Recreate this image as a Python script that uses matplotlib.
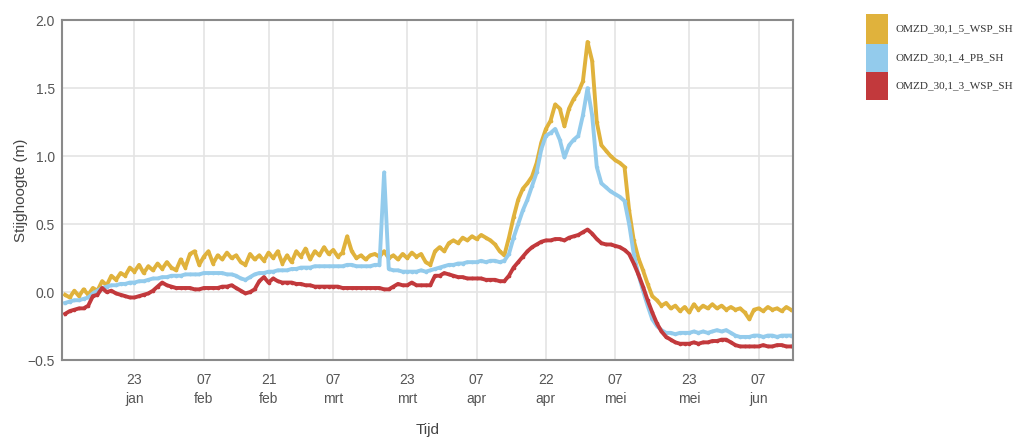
import pandas as pd
import matplotlib
matplotlib.use("Agg")
import matplotlib.pyplot as plt
from matplotlib.patches import Rectangle

# daily values, 8 jan - 14 jun
dates = pd.date_range("2019-01-08", periods=158, freq="D")

wsp5 = [-0.02, -0.04, 0.01, -0.03, 0.02, -0.02, 0.03, 0.01, 0.08, 0.05,
        0.12, 0.09, 0.14, 0.12, 0.18, 0.15, 0.20, 0.14, 0.19, 0.16,
        0.21, 0.17, 0.22, 0.18, 0.16, 0.24, 0.18, 0.28, 0.30, 0.20,
        0.26, 0.30, 0.21, 0.27, 0.24, 0.29, 0.25, 0.27, 0.22, 0.20,
        0.28, 0.24, 0.27, 0.23, 0.29, 0.25, 0.30, 0.21, 0.27, 0.22,
        0.30, 0.26, 0.32, 0.24, 0.30, 0.27, 0.33, 0.28, 0.31, 0.26,
        0.29, 0.41, 0.30, 0.25, 0.27, 0.24, 0.27, 0.28, 0.26, 0.30,
        0.25, 0.27, 0.24, 0.28, 0.25, 0.29, 0.26, 0.28, 0.22, 0.20,
        0.30, 0.33, 0.30, 0.36, 0.38, 0.36, 0.40, 0.38, 0.41, 0.39,
        0.42, 0.40, 0.38, 0.35, 0.30, 0.27, 0.40, 0.55, 0.68, 0.76,
        0.80, 0.85, 0.95, 1.10, 1.20, 1.26, 1.38, 1.35, 1.22, 1.35,
        1.42, 1.47, 1.55, 1.84, 1.70, 1.25, 1.08, 1.04, 1.00, 0.97,
        0.95, 0.92, 0.60, 0.38, 0.25, 0.16, 0.06, -0.03, -0.06, -0.10,
        -0.08, -0.12, -0.10, -0.14, -0.11, -0.15, -0.09, -0.13, -0.10, -0.12,
        -0.09, -0.12, -0.10, -0.13, -0.11, -0.13, -0.12, -0.15, -0.20, -0.13,
        -0.12, -0.14, -0.11, -0.13, -0.12, -0.14, -0.11, -0.13]

pb4 = [-0.08, -0.07, -0.06, -0.06, -0.05, -0.04, -0.01, 0.01, 0.03, 0.04,
       0.05, 0.05, 0.06, 0.06, 0.07, 0.07, 0.08, 0.08, 0.09, 0.10,
       0.10, 0.11, 0.11, 0.12, 0.12, 0.12, 0.13, 0.13, 0.13, 0.13,
       0.14, 0.14, 0.14, 0.14, 0.14, 0.13, 0.13, 0.12, 0.10, 0.09,
       0.11, 0.13, 0.14, 0.14, 0.15, 0.15, 0.16, 0.16, 0.16, 0.17,
       0.17, 0.18, 0.18, 0.18, 0.19, 0.19, 0.19, 0.19, 0.19, 0.19,
       0.19, 0.20, 0.20, 0.19, 0.19, 0.19, 0.19, 0.20, 0.20, 0.88,
       0.17, 0.16, 0.16, 0.15, 0.15, 0.15, 0.15, 0.16, 0.15, 0.16,
       0.17, 0.18, 0.19, 0.20, 0.20, 0.21, 0.21, 0.22, 0.22, 0.22,
       0.23, 0.22, 0.23, 0.23, 0.22, 0.23, 0.28, 0.40, 0.50, 0.60,
       0.68, 0.78, 0.88, 1.05, 1.15, 1.17, 1.20, 1.12, 0.99, 1.08,
       1.12, 1.15, 1.30, 1.50, 1.30, 0.92, 0.80, 0.77, 0.74, 0.72,
       0.70, 0.67, 0.50, 0.28, 0.13, 0.01, -0.10, -0.20, -0.25, -0.28,
       -0.30, -0.30, -0.31, -0.30, -0.30, -0.30, -0.29, -0.30, -0.29, -0.30,
       -0.29, -0.28, -0.29, -0.28, -0.30, -0.32, -0.33, -0.33, -0.33, -0.32,
       -0.32, -0.33, -0.32, -0.32, -0.33, -0.32, -0.32, -0.32]

wsp3 = [-0.16, -0.14, -0.13, -0.12, -0.12, -0.10, -0.03, -0.02, 0.03, 0.00,
        0.01, -0.01, -0.02, -0.03, -0.04, -0.04, -0.03, -0.02, -0.01, 0.01,
        0.04, 0.07, 0.05, 0.04, 0.03, 0.03, 0.03, 0.03, 0.02, 0.02,
        0.03, 0.03, 0.03, 0.03, 0.04, 0.04, 0.05, 0.03, 0.01, -0.01,
        0.00, 0.02, 0.08, 0.11, 0.07, 0.10, 0.08, 0.07, 0.07, 0.07,
        0.06, 0.06, 0.05, 0.05, 0.04, 0.04, 0.04, 0.04, 0.04, 0.04,
        0.03, 0.03, 0.03, 0.03, 0.03, 0.03, 0.03, 0.03, 0.03, 0.02,
        0.02, 0.04, 0.06, 0.05, 0.05, 0.07, 0.05, 0.05, 0.05, 0.05,
        0.12, 0.12, 0.14, 0.13, 0.12, 0.11, 0.11, 0.10, 0.10, 0.10,
        0.10, 0.09, 0.09, 0.09, 0.08, 0.08, 0.12, 0.18, 0.22, 0.26,
        0.30, 0.33, 0.35, 0.37, 0.38, 0.38, 0.39, 0.39, 0.38, 0.40,
        0.41, 0.42, 0.44, 0.46, 0.43, 0.39, 0.36, 0.35, 0.35, 0.34,
        0.33, 0.31, 0.28, 0.21, 0.13, 0.04, -0.06, -0.15, -0.23, -0.29,
        -0.33, -0.35, -0.37, -0.38, -0.38, -0.38, -0.37, -0.38, -0.37, -0.37,
        -0.36, -0.36, -0.35, -0.35, -0.37, -0.39, -0.40, -0.40, -0.40, -0.40,
        -0.40, -0.39, -0.40, -0.40, -0.39, -0.39, -0.40, -0.40]

series_names = ["OMZD_30,1_5_WSP_SH", "OMZD_30,1_4_PB_SH", "OMZD_30,1_3_WSP_SH"]
colors = ["#e0b23c", "#93cbec", "#c2393c"]

tick_dates = ["2019-01-23", "2019-02-07", "2019-02-21", "2019-03-07", "2019-03-23",
              "2019-04-07", "2019-04-22", "2019-05-07", "2019-05-23", "2019-06-07"]
tick_labels = ["23\njan", "07\nfeb", "21\nfeb", "07\nmrt", "23\nmrt",
               "07\napr", "22\napr", "07\nmei", "23\nmei", "07\njun"]

plt.rcParams["font.family"] = ["Liberation Sans", "DejaVu Sans"]

fig = plt.figure(figsize=(10.27, 4.38), dpi=100)
ax = fig.add_axes([0.0604, 0.178, 0.712, 0.776])

for vals, c in zip([wsp5, pb4, wsp3], colors):
    ax.plot(dates, vals, color=c, lw=2.8, marker="o", ms=1.6, solid_joinstyle="round")

ax.set_xlim(pd.Timestamp("2019-01-07 08:00"), pd.Timestamp("2019-06-14 12:00"))
ax.set_ylim(-0.5, 2.0)
ax.set_yticks([-0.5, 0.0, 0.5, 1.0, 1.5, 2.0])
ax.set_xticks(pd.to_datetime(tick_dates))
ax.set_xticklabels(tick_labels, linespacing=1.5)
ax.grid(True, color="#e4e4e4", lw=1.2)
ax.set_axisbelow(True)
for s in ax.spines.values():
    s.set_color("#8a8a8a")
    s.set_linewidth(1.5)
ax.tick_params(length=0, labelsize=10, colors="#555555")
ax.tick_params(axis="x", pad=9)
ax.tick_params(axis="y", pad=5)
ax.set_ylabel("Stijghoogte (m)", fontsize=11, color="#444444")
ax.yaxis.set_label_coords(-0.047, 0.5)
ax.set_xlabel("Tijd", fontsize=11, color="#444444", labelpad=12)

# legend drawn at figure level
tops = [14, 44, 72]
heights = [30, 28, 28]
for name, c, t, h in zip(series_names, colors, tops, heights):
    fig.add_artist(Rectangle((866 / 1027, 1 - (t + h) / 438), 22 / 1027, h / 438,
                             transform=fig.transFigure, color=c, lw=0))
    fig.text(896 / 1027, 1 - (t + h / 2) / 438, name, fontsize=8,
             family="Liberation Serif", color="#333333", va="center")

fig.savefig("out.png", dpi=100)
